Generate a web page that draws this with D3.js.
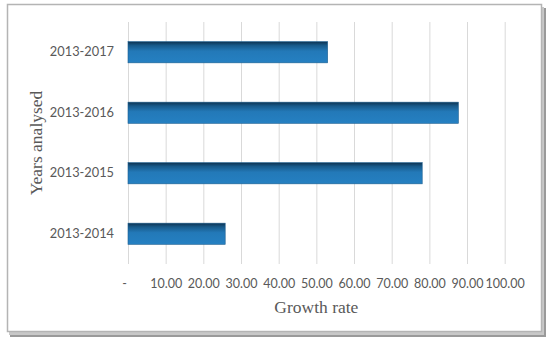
<!DOCTYPE html>
<html>
<head>
<meta charset="utf-8">
<script src="https://cdn.jsdelivr.net/npm/d3@7"></script>
<style>
  body { margin: 0; background: #fff; }
  svg { display: block; }
</style>
</head>
<body>
<svg></svg>
<script>
const size = {w: 550, h: 342};
const margin = {t: 22, r: 45.3, b: 78, l: 128};
const canvasSize = {w: size.w - margin.l - margin.r, h: size.h - margin.t - margin.b};

// data
const periods = ['2013-2014', '2013-2015', '2013-2016', '2013-2017'];
const growthRates = [25.8, 78.1, 87.7, 53.0];
const xTicks = [0, 10, 20, 30, 40, 50, 60, 70, 80, 90, 100];

const svg = d3.select('svg')
    .attr('width', size.w)
    .attr('height', size.h);

const defs = svg.append('defs');
const grad = defs.append('linearGradient')
    .attr('id', 'barGrad')
    .attr('x1', 0).attr('y1', 0).attr('x2', 0).attr('y2', 1);
[['0%', '#0d3352'], ['18%', '#185a8a'], ['45%', '#2379b8'], ['100%', '#2580c2']]
    .forEach(s => grad.append('stop').attr('offset', s[0]).attr('stop-color', s[1]));

// frame with shadow
svg.append('rect')
    .attr('x', 10).attr('y', 8)
    .attr('width', 536).attr('height', 329)
    .attr('fill', '#9a9a9a');
svg.append('rect')
    .attr('x', 9).attr('y', 7)
    .attr('width', 535).attr('height', 328)
    .attr('fill', '#c8c8c8');
svg.append('rect')
    .attr('x', 7.5).attr('y', 4.5)
    .attr('width', 534).attr('height', 327)
    .attr('fill', '#fff')
    .attr('stroke', '#b4b4b4')
    .attr('stroke-width', 1.5);

const containerG = svg.append('g')
    .attr('transform', `translate(${margin.l}, ${margin.t})`);

const data = periods.map((p, i) => ({period: p, value: growthRates[i]}));

const scaleX = d3.scaleLinear()
    .domain([0, 100])
    .range([0, canvasSize.w]);

const scaleY = d3.scaleBand()
    .domain(periods.slice().reverse())
    .range([0, canvasSize.h])
    .paddingInner(0.65)
    .paddingOuter(0.325);

// gridlines + tick labels
const axisX = d3.axisBottom(scaleX)
    .tickValues(xTicks)
    .tickFormat(d => d === 0 ? '-' : d.toFixed(2))
    .tickSize(-canvasSize.h)
    .tickSizeOuter(0);

const axisG = containerG.append('g')
    .attr('transform', `translate(0, ${canvasSize.h})`)
    .call(axisX);
axisG.select('.domain').remove();
axisG.selectAll('.tick line')
    .attr('stroke', '#d9d9d9')
    .attr('stroke-width', 1);
axisG.selectAll('.tick text')
    .attr('y', 0)
    .attr('dy', '1.95em')
    .attr('dx', d => d === 0 ? -4 : 0)
    .attr('fill', '#595959')
    .style('font-family', 'Lato, sans-serif')
    .style('font-size', '12.5px');

// bars
containerG.selectAll('.bar')
    .data(data)
    .join('rect')
    .classed('bar', true)
    .attr('x', 0)
    .attr('y', d => scaleY(d.period))
    .attr('width', d => scaleX(d.value))
    .attr('height', scaleY.bandwidth())
    .attr('fill', 'url(#barGrad)')
    .attr('stroke', '#1d5f90')
    .attr('stroke-width', 0.6);

// category labels
const axisY = d3.axisLeft(scaleY).tickSize(0).tickPadding(14);
const yG = containerG.append('g').call(axisY);
yG.select('.domain').remove();
yG.selectAll('.tick text')
    .attr('fill', '#595959')
    .style('font-family', 'Lato, sans-serif')
    .style('font-size', '12.8px');

// axis titles
svg.append('text')
    .attr('x', margin.l + canvasSize.w / 2)
    .attr('y', 313)
    .attr('text-anchor', 'middle')
    .attr('fill', '#595959')
    .style('font-family', '"Liberation Serif", serif')
    .style('font-size', '17.5px')
    .text('Growth rate');

svg.append('text')
    .attr('transform', 'translate(42, 143) rotate(-90)')
    .attr('text-anchor', 'middle')
    .attr('fill', '#595959')
    .style('font-family', '"Liberation Serif", serif')
    .style('font-size', '17.5px')
    .text('Years analysed');
</script>
</body>
</html>
